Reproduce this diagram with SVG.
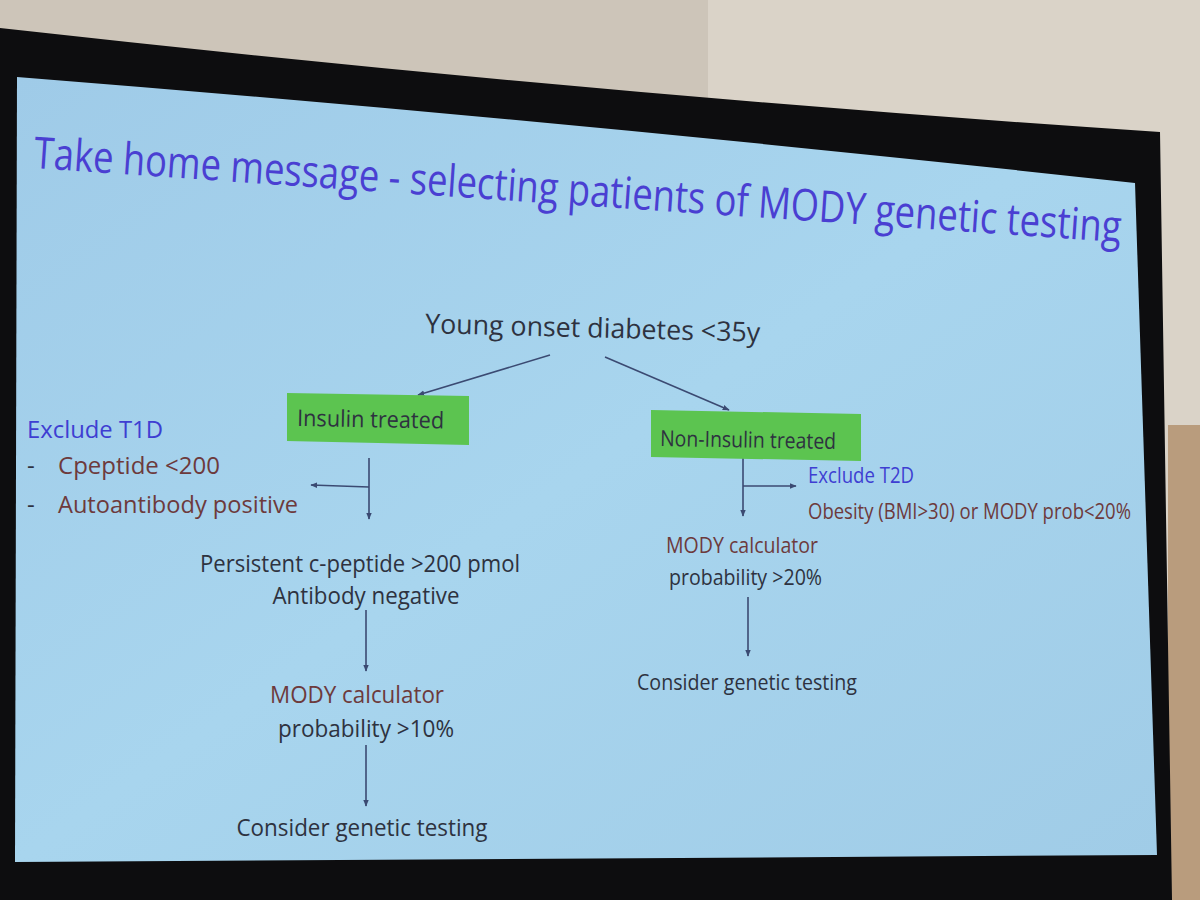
<svg xmlns="http://www.w3.org/2000/svg" width="1200" height="900" viewBox="0 0 1200 900">
<defs>
<linearGradient id="slide" x1="0" y1="0" x2="1" y2="1">
<stop offset="0" stop-color="#9fcbe8"/>
<stop offset="0.5" stop-color="#a8d5ee"/>
<stop offset="1" stop-color="#a0cce7"/>
</linearGradient>
<marker id="ah" viewBox="0 0 10 10" refX="9" refY="5" markerWidth="7" markerHeight="7" orient="auto" markerUnits="userSpaceOnUse">
<path d="M0,1 L10,5 L0,9 z" fill="#3b4a72"/>
</marker>
<style>
.t{font-family:"Open Sans",Lato,"Liberation Sans",sans-serif;font-size:24px;fill:#2e3240}
.br{fill:#6d3a3c}
.bl{fill:#3e3ed2}
.c{text-anchor:middle}
.box{fill:#5cc450}
.ln{stroke:#3b4a72;stroke-width:1.6;fill:none}
</style>
</defs>
<!-- background: wall and screen frame -->
<rect x="0" y="0" width="1200" height="900" fill="#cdc5b9"/>
<rect x="708" y="0" width="492" height="900" fill="#dad3c8"/>
<rect x="1168" y="425" width="32" height="475" fill="#b99c7d"/>
<path d="M0,28 Q600,95 1160,132 L1172,900 L0,900 Z" fill="#0d0d0f"/>
<path d="M17,77 Q560,120 1135,183 L1157,855 L15,862 Z" fill="url(#slide)"/>

<g id="title">
<text class="t" x="33" y="168" transform="rotate(3.9 33 168)" style="font-size:44px;fill:#4a3fd2" textLength="1090" lengthAdjust="spacingAndGlyphs">Take home message - selecting patients of MODY genetic testing</text>
</g>

<g id="connectors">
<line class="ln" x1="550" y1="355" x2="418" y2="395" marker-end="url(#ah)"/>
<line class="ln" x1="605" y1="357" x2="729" y2="410" marker-end="url(#ah)"/>
<line class="ln" x1="369" y1="458" x2="369" y2="519" marker-end="url(#ah)"/>
<line class="ln" x1="369" y1="487" x2="311" y2="485" marker-end="url(#ah)"/>
<line class="ln" x1="743" y1="458" x2="743" y2="516" marker-end="url(#ah)"/>
<line class="ln" x1="743" y1="486" x2="796" y2="486" marker-end="url(#ah)"/>
<line class="ln" x1="366" y1="610" x2="366" y2="671" marker-end="url(#ah)"/>
<line class="ln" x1="366" y1="745" x2="366" y2="806" marker-end="url(#ah)"/>
<line class="ln" x1="748" y1="597" x2="748" y2="656" marker-end="url(#ah)"/>
</g>

<g id="n-young">
<text class="t" x="425" y="333" transform="rotate(1.5 425 333)" textLength="335" lengthAdjust="spacingAndGlyphs" style="font-size:27px">Young onset diabetes &lt;35y</text>
</g>
<g id="n-insulin">
<polygon class="box" points="287,393 469,396 469,445 287,441"/>
<text class="t" x="297" y="426" transform="rotate(1 297 426)" textLength="147" lengthAdjust="spacingAndGlyphs" style="font-size:23px">Insulin treated</text>
</g>
<g id="n-noninsulin">
<polygon class="box" points="651,410 861,414 861,461 651,457"/>
<text class="t" x="660" y="446" transform="rotate(1 660 446)" textLength="176" lengthAdjust="spacingAndGlyphs" style="font-size:22px">Non-Insulin treated</text>
</g>
<g id="n-excl-t1d">
<text class="t bl" x="27" y="438" textLength="136" lengthAdjust="spacingAndGlyphs">Exclude T1D</text>
<text class="t" x="27" y="474">-</text>
<text class="t br" x="58" y="474" textLength="162" lengthAdjust="spacingAndGlyphs">Cpeptide &lt;200</text>
<text class="t" x="27" y="513">-</text>
<text class="t br" x="58" y="513" textLength="240" lengthAdjust="spacingAndGlyphs">Autoantibody positive</text>
</g>
<g id="n-persistent">
<text class="t c" x="360" y="572" textLength="320" lengthAdjust="spacingAndGlyphs">Persistent c-peptide &gt;200 pmol</text>
<text class="t c" x="366" y="604" textLength="187" lengthAdjust="spacingAndGlyphs">Antibody negative</text>
</g>
<g id="n-mody10">
<text class="t br c" x="357" y="703" textLength="174" lengthAdjust="spacingAndGlyphs">MODY calculator</text>
<text class="t c" x="366" y="737" textLength="176" lengthAdjust="spacingAndGlyphs">probability &gt;10%</text>
</g>
<g id="n-consider-left">
<text class="t c" x="362" y="836" textLength="251" lengthAdjust="spacingAndGlyphs">Consider genetic testing</text>
</g>
<g id="n-excl-t2d">
<text class="t bl" x="808" y="483" textLength="106" lengthAdjust="spacingAndGlyphs" style="font-size:22px">Exclude T2D</text>
<text class="t br" x="808" y="519" textLength="323" lengthAdjust="spacingAndGlyphs" style="font-size:22px">Obesity (BMI&gt;30) or MODY prob&lt;20%</text>
</g>
<g id="n-mody20">
<text class="t br" x="666" y="553" textLength="152" lengthAdjust="spacingAndGlyphs" style="font-size:22px">MODY calculator</text>
<text class="t" x="669" y="585" textLength="153" lengthAdjust="spacingAndGlyphs" style="font-size:22px">probability &gt;20%</text>
</g>
<g id="n-consider-right">
<text class="t" x="637" y="690" textLength="220" lengthAdjust="spacingAndGlyphs" style="font-size:22px">Consider genetic testing</text>
</g>
</svg>
